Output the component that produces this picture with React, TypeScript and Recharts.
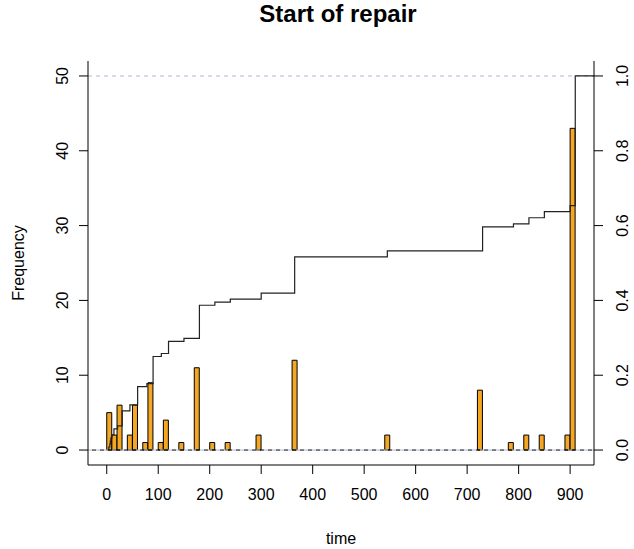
import { ComposedChart, Bar, Line, XAxis, YAxis, ReferenceLine } from 'recharts';

// histogram of repair start times, bins of 10 days (bin mid point -> count)
const binMids = [5, 15, 25, 45, 55, 75, 85, 105, 115, 145, 175, 205, 235, 295, 365, 545, 725, 785, 815, 845, 895, 905];
const binCounts = [5, 2, 6, 2, 6, 1, 9, 1, 4, 1, 11, 1, 1, 2, 12, 2, 8, 1, 2, 2, 2, 43];

// empirical cdf: times where it steps and cumulative count reached there
const stepTimes = [4, 6, 7, 8, 10, 14, 21, 30, 45, 60, 78, 90, 106, 120, 150, 180, 210, 240, 300, 365, 545, 730, 790, 820, 850, 900, 910];
const stepCounts = [1, 2, 3, 4, 5, 7, 8, 13, 15, 21, 22, 31, 32, 36, 37, 48, 49, 50, 52, 64, 66, 74, 75, 77, 79, 81, 124];

const timeTicks = [0, 100, 200, 300, 400, 500, 600, 700, 800, 900];
const freqTicks = [0, 10, 20, 30, 40, 50];
const probTicks = [0, 0.2, 0.4, 0.6, 0.8, 1.0];

const X_DOMAIN: [number, number] = [-36.4, 946.4];
const total = binCounts.reduce((a, b) => a + b, 0);

const histData = binMids.map((x, i) => ({ x, count: binCounts[i] }));
const ecdfData = [
  { x: stepTimes[0], frac: 0 },
  ...stepTimes.map((x, i) => ({ x, frac: stepCounts[i] / total })),
  { x: X_DOMAIN[1], frac: 1 },
];

const FONT = '"Liberation Sans", Arial, Helvetica, sans-serif';

const BottomTick = ({ x, payload }: any) => (
  <text x={x} y={494} textAnchor="middle" dy="0.35em" fontSize={16} fontFamily={FONT} fill="#000">
    {payload.value}
  </text>
);

const LeftTick = ({ y, payload }: any) => (
  <text x={0} y={0} transform={`translate(62,${y}) rotate(-90)`} textAnchor="middle" dy="0.35em" fontSize={16} fontFamily={FONT} fill="#000">
    {payload.value}
  </text>
);

const RightTick = ({ y, payload }: any) => (
  <text x={0} y={0} transform={`translate(622,${y}) rotate(-90)`} textAnchor="middle" dy="0.35em" fontSize={16} fontFamily={FONT} fill="#000">
    {Number(payload.value).toFixed(1)}
  </text>
);

export default function App() {
  return (
    <div style={{ position: 'absolute', left: 0, top: 0, width: 634, height: 549, background: '#fff' }}>
      <div
        style={{
          position: 'absolute',
          left: 0,
          width: 676,
          top: 0,
          textAlign: 'center',
          fontFamily: FONT,
          fontWeight: 'bold',
          fontSize: 24,
          lineHeight: '28px',
          color: '#000',
        }}
      >
        Start of repair
      </div>
      <ComposedChart width={634} height={549} data={histData} margin={{ top: 61, right: 0, bottom: 0, left: 0 }}>
        <XAxis
          dataKey="x"
          type="number"
          domain={X_DOMAIN}
          allowDataOverflow
          ticks={timeTicks}
          interval={0}
          height={84}
          tickSize={9}
          tickLine={{ stroke: '#000' }}
          axisLine={{ stroke: '#000' }}
          tick={<BottomTick />}
          label={() => (
            <text x={341} y={538} textAnchor="middle" dy="0.35em" fontSize={16} fontFamily={FONT} fill="#000">time</text>
          )}
        />
        <XAxis xAxisId="ecdf" dataKey="x" type="number" domain={X_DOMAIN} allowDataOverflow hide />
        <XAxis
          xAxisId="top"
          orientation="top"
          type="number"
          domain={X_DOMAIN}
          allowDataOverflow
          height={0}
          tick={false}
          tickLine={false}
          axisLine={{ stroke: '#000' }}
        />
        <YAxis
          yAxisId="left"
          type="number"
          domain={[-2, 52]}
          allowDataOverflow
          ticks={freqTicks}
          interval={0}
          width={88}
          tickSize={9}
          tickLine={{ stroke: '#000' }}
          axisLine={{ stroke: '#000' }}
          tick={<LeftTick />}
          label={() => (
            <text x={0} y={0} transform="translate(18,263) rotate(-90)" textAnchor="middle" dy="0.35em" fontSize={16} fontFamily={FONT} fill="#000">Frequency</text>
          )}
        />
        <YAxis
          yAxisId="right"
          orientation="right"
          type="number"
          domain={[-0.04, 1.04]}
          allowDataOverflow
          ticks={probTicks}
          interval={0}
          width={40}
          tickSize={9}
          tickLine={{ stroke: '#000' }}
          axisLine={{ stroke: '#000' }}
          tick={<RightTick />}
        />
        <ReferenceLine yAxisId="left" y={50} stroke="#a8b8dc" strokeDasharray="4 4" />
        <ReferenceLine yAxisId="left" y={0} stroke="#a8b8dc" strokeDasharray="4 4" />
        <ReferenceLine yAxisId="left" y={0} stroke="#000" strokeDasharray="4 4" strokeDashoffset={4} />
        <Bar yAxisId="left" dataKey="count" fill="#F5A623" stroke="#000" strokeWidth={1} barSize={5} isAnimationActive={false} />
        <Line
          xAxisId="ecdf"
          yAxisId="right"
          data={ecdfData}
          dataKey="frac"
          type="stepAfter"
          stroke="#222"
          strokeWidth={1.2}
          dot={false}
          activeDot={false}
          isAnimationActive={false}
        />
      </ComposedChart>
    </div>
  );
}
